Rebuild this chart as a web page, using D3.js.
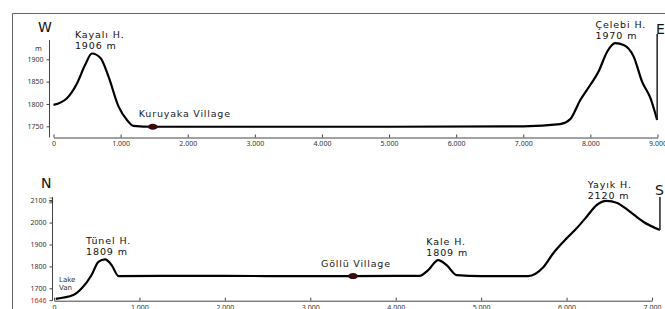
<!DOCTYPE html>
<html>
<head>
<meta charset="utf-8">
<script src="https://cdn.jsdelivr.net/npm/d3@7"></script>
<style>
  body { margin: 0; background: #fff; }
  svg { display: block; font-family: "DejaVu Sans", sans-serif; }
  .tick text { fill: #333; font-size: 7px; font-family: "Noto Sans", sans-serif; }
  .tick line { stroke: #444; }
</style>
</head>
<body>
<svg id="chart" width="665" height="309"></svg>
<script>
// W-E profile (distance m, elevation m)
const weDist = [0, 200, 350, 470, 572, 700, 820, 970, 1095, 1190, 1480, 3000, 5000, 7000, 7550, 7700, 7850, 8000, 8120, 8250, 8370, 8495, 8645, 8770, 8895, 8995];
const weElev = [1798, 1813, 1846, 1887, 1913, 1903, 1861, 1794, 1764, 1751, 1749, 1749, 1749, 1750, 1755, 1766, 1809, 1843, 1872, 1917, 1936, 1932, 1906, 1850, 1813, 1764];
const weTicksX = [0, 1000, 2000, 3000, 4000, 5000, 6000, 7000, 8000, 9000];
const weTicksY = [1750, 1800, 1850, 1900];
const wePeaks = [
  { name: "Kayalı H.", elev: "1906 m", dist: 572 },
  { name: "Çelebi H.", elev: "1970 m", dist: 8120 }
];
const weVillage = { name: "Kuruyaka Village", dist: 1480 };

// N-S profile
const nsDist = [20, 225, 325, 440, 520, 597, 675, 755, 1500, 2500, 3500, 4280, 4380, 4498, 4596, 4713, 5000, 5550, 5727, 5844, 6000, 6118, 6235, 6352, 6469, 6586, 6741, 6897, 7093];
const nsElev = [1652, 1669, 1700, 1761, 1821, 1832, 1806, 1756, 1757, 1756, 1756, 1757, 1783, 1829, 1806, 1760, 1756, 1756, 1796, 1860, 1928, 1974, 2027, 2080, 2099, 2091, 2050, 2004, 1966];
const nsTicksX = [0, 1000, 2000, 3000, 4000, 5000, 6000, 7000];
const nsTicksY = [1646, 1700, 1800, 1900, 2000, 2100];
const nsPeaks = [
  { name: "Tünel H.", elev: "1809 m", dist: 597 },
  { name: "Kale H.", elev: "1809 m", dist: 4498 },
  { name: "Yayık H.", elev: "2120 m", dist: 6469 }
];
const nsVillage = { name: "Göllü Village", dist: 3500 };

const svg = d3.select('#chart');
const fmt = d3.formatLocale({ decimal: ",", thousands: ".", grouping: [3], currency: ["", ""] }).format(",");

// frame
svg.append('path')
  .attr('d', 'M12.5,309 V13.5 H665')
  .attr('fill', 'none').attr('stroke', '#666').attr('stroke-width', 1);

function profile(o) {
  const x = d3.scaleLinear().domain(o.xDomain).range(o.xRange);
  const y = d3.scaleLinear().domain(o.yDomain).range(o.yRange);
  const pts = o.dist.map((d, i) => [d, o.elev[i]]);
  const elevAt = d => {
    const i = d3.bisector(p => p[0]).left(pts, d);
    if (i <= 0) return pts[0][1];
    if (i >= pts.length) return pts[pts.length - 1][1];
    const a = pts[i - 1], b = pts[i];
    return a[1] + (b[1] - a[1]) * (d - a[0]) / (b[0] - a[0]);
  };

  // y axis
  const ya = svg.append('g')
    .attr('transform', `translate(${o.yAxisX},0)`)
    .call(d3.axisLeft(y).tickValues(o.ticksY).tickSize(3).tickPadding(3).tickFormat(d3.format('d')));
  ya.select('.domain').remove();
  ya.append('line').attr('y1', o.yAxisTop).attr('y2', o.xAxisY).attr('stroke', '#444');
  ya.selectAll('.tick text').filter(d => d === 1646).style('fill', '#d9262b');

  // x axis
  const xa = svg.append('g')
    .attr('transform', `translate(0,${o.xAxisY})`)
    .call(d3.axisBottom(x).tickValues(o.ticksX).tickSizeInner(-3).tickSizeOuter(0).tickPadding(4).tickFormat(fmt));
  xa.select('.domain').attr('stroke', '#444');

  // profile line
  svg.append('path')
    .datum(pts)
    .attr('fill', 'none')
    .attr('stroke', '#000')
    .attr('stroke-width', 2.2)
    .attr('stroke-linejoin', 'round')
    .attr('d', d3.line().x(d => x(d[0])).y(d => y(d[1])).curve(d3.curveMonotoneX));

  // end vertical line
  const last = pts[pts.length - 1];
  svg.append('line')
    .attr('x1', x(last[0])).attr('x2', x(last[0]))
    .attr('y1', o.endTop).attr('y2', y(last[1]))
    .attr('stroke', '#222').attr('stroke-width', 1.5);

  // village
  svg.append('ellipse')
    .attr('cx', x(o.village.dist)).attr('cy', y(elevAt(o.village.dist)))
    .attr('rx', 5).attr('ry', 3).attr('fill', '#3b0b0b');
  svg.append('text')
    .attr('x', x(o.village.dist) + o.village.dx).attr('y', y(elevAt(o.village.dist)) + o.village.dy)
    .attr('font-size', 9.5).attr('letter-spacing', 0.8).attr('fill', '#222')
    .text(o.village.name);

  // peaks
  o.peaks.forEach((p, i) => {
    const px = x(p.dist) + o.peakOff[i][0];
    const t = svg.append('text')
      .attr('x', px).attr('y', o.peakOff[i][1])
      .attr('font-size', 9.5).attr('letter-spacing', 0.9).attr('fill', '#111');
    t.append('tspan').attr('x', px).text(p.name);
    t.append('tspan').attr('x', px).attr('dy', 11).text(p.elev);
  });

  // direction letters
  o.dirs.forEach(d => {
    svg.append('text').attr('x', d.x).attr('y', d.y)
      .attr('font-size', 14).attr('fill', '#111').text(d.t);
  });
}

profile({
  dist: weDist, elev: weElev,
  xDomain: [0, 9000], xRange: [53.5, 657.5],
  yDomain: [1750, 1900], yRange: [126.3, 59.3],
  ticksX: weTicksX, ticksY: weTicksY,
  yAxisX: 49.5, yAxisTop: 40, xAxisY: 137.5, endTop: 34,
  village: Object.assign({ dx: -14, dy: -10 }, weVillage),
  peaks: wePeaks,
  peakOff: [[-17, 37.5], [-3, 27.5]],
  dirs: [{ t: 'W', x: 38, y: 32 }, { t: 'E', x: 656, y: 34 }]
});

profile({
  dist: nsDist, elev: nsElev,
  xDomain: [0, 7000], xRange: [54, 652],
  yDomain: [1700, 2100], yRange: [288.3, 200.7],
  ticksX: nsTicksX, ticksY: nsTicksY,
  yAxisX: 52.5, yAxisTop: 197, xAxisY: 300.7, endTop: 197,
  village: Object.assign({ dx: -32, dy: -9 }, nsVillage),
  peaks: nsPeaks,
  peakOff: [[-19, 243.5], [-12, 244.5], [-19, 188]],
  dirs: [{ t: 'N', x: 41, y: 188 }, { t: 'S', x: 655, y: 195 }]
});

// unit labels and lake
svg.append('text').attr('x', 35).attr('y', 51).attr('font-size', 7).attr('fill', '#333').text('m');
svg.append('text').attr('transform', 'translate(49,197) rotate(90)').attr('font-size', 7).attr('fill', '#333').text('m');
svg.append('text').attr('x', 59).attr('y', 282).attr('font-size', 7).attr('fill', '#333')
  .selectAll('tspan').data(['Lake', 'Van']).join('tspan')
  .attr('x', 59).attr('dy', (d, i) => i ? 8 : 0).text(d => d);
</script>
</body>
</html>
